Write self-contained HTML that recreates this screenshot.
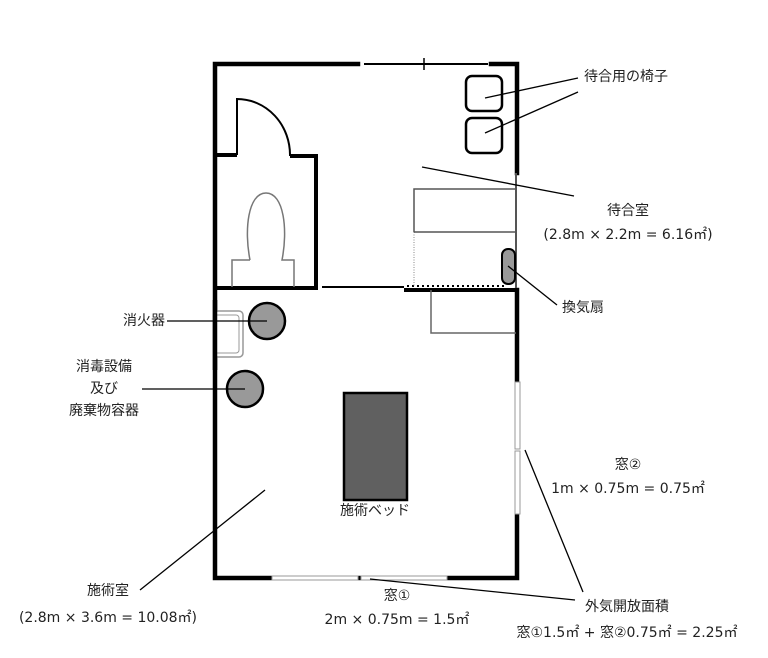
<!DOCTYPE html>
<html><head><meta charset="utf-8"><style>
html,body{margin:0;padding:0;background:#fff;}
svg{display:block;}
text{font-family:"DejaVu Sans","Noto Sans CJK JP",sans-serif;font-size:14px;fill:#222;}
</style></head><body>
<svg width="768" height="658" viewBox="0 0 768 658" xmlns="http://www.w3.org/2000/svg">
<rect width="768" height="658" fill="#fff"/>
<g stroke="#000" stroke-width="4.5" fill="none" stroke-linecap="square">
<polyline points="358,64 215,64 215,578 517,578 517,514"/>
<polyline points="491,64 517,64 517,173"/>
<line x1="517" y1="290" x2="517" y2="382"/>
</g>
<line x1="364" y1="64" x2="488" y2="64" stroke="#000" stroke-width="2"/>
<line x1="424" y1="58" x2="424" y2="70" stroke="#000" stroke-width="1.5"/>
<line x1="516" y1="173" x2="516" y2="290" stroke="#555" stroke-width="2"/>
<rect x="515" y="382" width="5" height="67" fill="#fff" stroke="#999" stroke-width="1"/>
<rect x="515" y="451" width="5" height="63" fill="#fff" stroke="#999" stroke-width="1"/>
<rect x="272" y="576" width="86" height="4" fill="#fff" stroke="#999" stroke-width="1"/>
<rect x="361" y="576" width="86" height="4" fill="#fff" stroke="#999" stroke-width="1"/>
<g stroke="#000" stroke-width="4" fill="none">
<line x1="215" y1="155" x2="237" y2="155"/>
<polyline points="290,156 316,156 316,288 215,288"/>
</g>
<path d="M237,155 L237,99 A53,56 0 0 1 290,156" stroke="#000" stroke-width="2" fill="none"/>
<path d="M250,260 C244,230 248,193 266,193 C284,193 288,230 282,260 L294,260 L294,287 M250,260 L232,260 L232,287" stroke="#777" stroke-width="1.5" fill="none"/>
<line x1="322" y1="287" x2="404" y2="287" stroke="#000" stroke-width="2"/>
<line x1="404" y1="290" x2="517" y2="290" stroke="#000" stroke-width="4"/>
<line x1="407" y1="286" x2="505" y2="286" stroke="#000" stroke-width="2" stroke-dasharray="2,3"/>
<line x1="414" y1="232" x2="414" y2="286" stroke="#888" stroke-width="1" stroke-dasharray="1,1.5"/>
<polyline points="414,232 414,189 516,189" stroke="#555" stroke-width="1.5" fill="none"/>
<line x1="414" y1="232" x2="516" y2="232" stroke="#555" stroke-width="1.5"/>
<polyline points="431,290 431,333 516,333" stroke="#666" stroke-width="1.5" fill="none"/>
<rect x="502" y="249" width="13" height="35" rx="6" fill="#999" stroke="#000" stroke-width="2"/>
<rect x="466" y="76" width="36" height="35" rx="6" fill="#fff" stroke="#000" stroke-width="2.5"/>
<rect x="466" y="118" width="36" height="35" rx="6" fill="#fff" stroke="#000" stroke-width="2.5"/>
<rect x="214" y="311" width="29" height="46" rx="4" fill="#fff" stroke="#999" stroke-width="1.5"/>
<rect x="214" y="315" width="25" height="38" rx="3" fill="#fff" stroke="#999" stroke-width="1"/>
<line x1="215" y1="300" x2="215" y2="370" stroke="#000" stroke-width="4.5"/>
<circle cx="267" cy="321" r="18" fill="#999" stroke="#000" stroke-width="2.5"/>
<circle cx="245" cy="389" r="18" fill="#999" stroke="#000" stroke-width="2.5"/>
<rect x="344" y="393" width="63" height="107" fill="#606060" stroke="#000" stroke-width="2.5"/>
<text x="375" y="515" text-anchor="middle">施術ベッド</text>
<g stroke="#000" stroke-width="1.3">
<line x1="485" y1="98" x2="578" y2="78"/>
<line x1="485" y1="133" x2="578" y2="92"/>
<line x1="422" y1="167" x2="574" y2="196"/>
<line x1="508" y1="266" x2="557" y2="305"/>
<line x1="167" y1="321" x2="267" y2="321"/>
<line x1="142" y1="389" x2="245" y2="389"/>
<line x1="265" y1="490" x2="140" y2="590"/>
<line x1="370" y1="579" x2="575" y2="600"/>
<line x1="525" y1="450" x2="583" y2="592"/>
</g>
<text x="584" y="81">待合用の椅子</text>
<text x="628" y="215" text-anchor="middle">待合室</text>
<text x="628" y="239" text-anchor="middle">(2.8m × 2.2m = 6.16㎡)</text>
<text x="562" y="312">換気扇</text>
<text x="165" y="325" text-anchor="end">消火器</text>
<text x="104" y="371" text-anchor="middle">消毒設備</text>
<text x="104" y="393" text-anchor="middle">及び</text>
<text x="104" y="415" text-anchor="middle">廃棄物容器</text>
<text x="628" y="469" text-anchor="middle">窓②</text>
<text x="628" y="493" text-anchor="middle">1m × 0.75m = 0.75㎡</text>
<text x="108" y="595" text-anchor="middle">施術室</text>
<text x="108" y="622" text-anchor="middle">(2.8m × 3.6m = 10.08㎡)</text>
<text x="397" y="600" text-anchor="middle">窓①</text>
<text x="397" y="624" text-anchor="middle">2m × 0.75m = 1.5㎡</text>
<text x="627" y="611" text-anchor="middle">外気開放面積</text>
<text x="627" y="637" text-anchor="middle">窓①1.5㎡ + 窓②0.75㎡ = 2.25㎡</text>
</svg>
</body></html>
